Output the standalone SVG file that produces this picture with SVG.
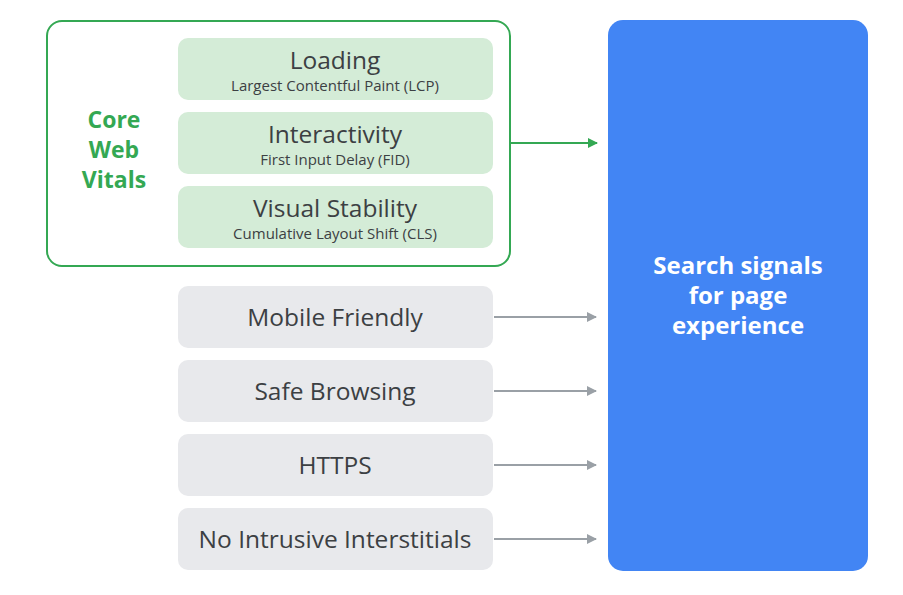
<svg xmlns="http://www.w3.org/2000/svg" width="903" height="595" viewBox="0 0 903 595">
<style>
.g{fill:#d4ecd7}
.y{fill:#e8e9ec}
.t{font-family:"Open Sans","Noto Sans",sans-serif;fill:#3c4043;text-anchor:middle}
.big{font-size:24.5px;font-weight:500}
.sm{font-size:15px}
.cwv{font-family:"Open Sans","Noto Sans",sans-serif;fill:#34a853;font-size:23px;font-weight:700;text-anchor:middle}
.wh{font-family:"Open Sans","Noto Sans",sans-serif;fill:#fff;font-size:24px;font-weight:700;text-anchor:middle}
.ga{stroke:#9aa0a6;stroke-width:2;fill:none}
.gr{stroke:#34a853;stroke-width:2;fill:none}
</style>
<defs>
<marker id="ag" markerWidth="10" markerHeight="10" refX="9" refY="5" orient="auto" markerUnits="userSpaceOnUse"><path d="M0,0 L10,5 L0,10 z" fill="#9aa0a6"/></marker>
<marker id="agr" markerWidth="10" markerHeight="10" refX="9" refY="5" orient="auto" markerUnits="userSpaceOnUse"><path d="M0,0 L10,5 L0,10 z" fill="#34a853"/></marker>
</defs>
<rect width="903" height="595" fill="#fff"/>
<g id="core-web-vitals">
<rect x="47" y="21" width="463" height="245" rx="15" fill="#fff" stroke="#34a853" stroke-width="2"/>
<text class="cwv" x="114" y="128">Core</text>
<text class="cwv" x="114" y="158">Web</text>
<text class="cwv" x="114" y="188">Vitals</text>
</g>
<g id="loading">
<rect class="g" x="178" y="38" width="315" height="62" rx="10"/>
<text class="t big" x="335" y="69">Loading</text>
<text class="t sm" x="335" y="91">Largest Contentful Paint (LCP)</text>
</g>
<g id="interactivity">
<rect class="g" x="178" y="112" width="315" height="62" rx="10"/>
<text class="t big" x="335" y="143">Interactivity</text>
<text class="t sm" x="335" y="165">First Input Delay (FID)</text>
</g>
<g id="visual-stability">
<rect class="g" x="178" y="186" width="315" height="62" rx="10"/>
<text class="t big" x="335" y="217">Visual Stability</text>
<text class="t sm" x="335" y="239">Cumulative Layout Shift (CLS)</text>
</g>
<g id="mobile-friendly">
<rect class="y" x="178" y="286" width="315" height="62" rx="10"/>
<text class="t big" x="335" y="326">Mobile Friendly</text>
</g>
<g id="safe-browsing">
<rect class="y" x="178" y="360" width="315" height="62" rx="10"/>
<text class="t big" x="335" y="400">Safe Browsing</text>
</g>
<g id="https">
<rect class="y" x="178" y="434" width="315" height="62" rx="10"/>
<text class="t big" x="335" y="474">HTTPS</text>
</g>
<g id="no-intrusive">
<rect class="y" x="178" y="508" width="315" height="62" rx="10"/>
<text class="t big" x="335" y="548">No Intrusive Interstitials</text>
</g>
<g id="search-signals">
<rect x="608" y="20" width="260" height="551" rx="15" fill="#4285f4"/>
<text class="wh" x="738" y="274">Search signals</text>
<text class="wh" x="738" y="304">for page</text>
<text class="wh" x="738" y="334">experience</text>
</g>
<g id="connectors">
<line class="gr" x1="510" y1="143" x2="597" y2="143" marker-end="url(#agr)"/>
<line class="ga" x1="494" y1="317" x2="596" y2="317" marker-end="url(#ag)"/>
<line class="ga" x1="494" y1="391" x2="596" y2="391" marker-end="url(#ag)"/>
<line class="ga" x1="494" y1="465" x2="596" y2="465" marker-end="url(#ag)"/>
<line class="ga" x1="494" y1="539" x2="596" y2="539" marker-end="url(#ag)"/>
</g>
</svg>
